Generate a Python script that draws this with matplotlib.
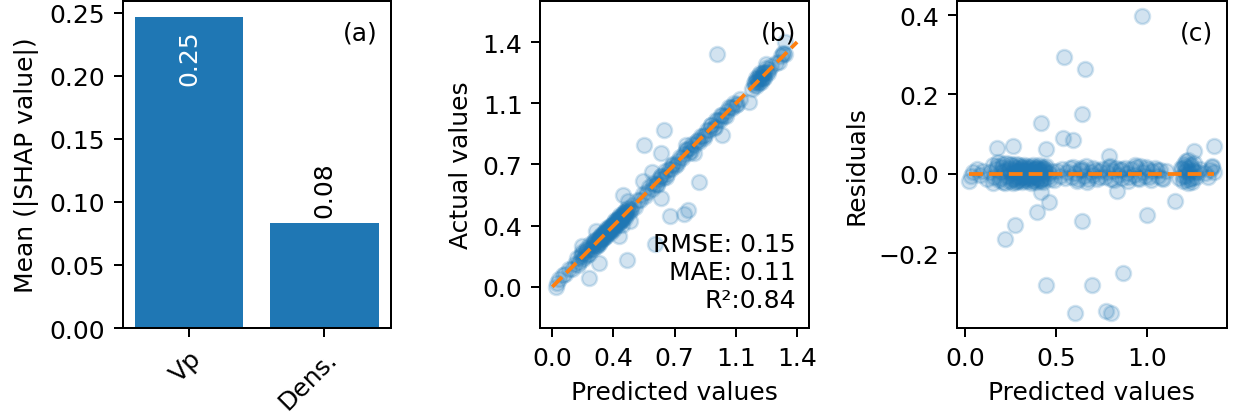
import numpy as np
import matplotlib
matplotlib.use('Agg')
import matplotlib.pyplot as plt

# ---------------- data ----------------
features = ['Vp', 'Dens.']
mean_shap = [0.247, 0.083]

# well-fitted points (predicted value, residual = actual - predicted)
band_pred = [
    0.022, 0.030, 0.045, 0.064, 0.080, 0.100, 0.120, 0.135,
    0.150, 0.160, 0.170, 0.180, 0.185, 0.195, 0.200, 0.210, 0.215, 0.225, 0.230, 0.240, 0.245, 0.250, 0.255,
    0.262, 0.268, 0.272, 0.278, 0.283, 0.288, 0.292, 0.298, 0.303, 0.308, 0.312, 0.318, 0.323, 0.328, 0.333,
    0.338, 0.343, 0.348, 0.352, 0.357, 0.362, 0.367, 0.372, 0.377, 0.382, 0.386, 0.391, 0.396, 0.401, 0.406,
    0.411, 0.416, 0.421, 0.426, 0.431, 0.436, 0.441, 0.447, 0.453, 0.460, 0.468, 0.476,
    0.490, 0.505, 0.520, 0.535, 0.548, 0.560, 0.575, 0.590, 0.605, 0.618, 0.630, 0.640, 0.652, 0.665, 0.678,
    0.690, 0.702, 0.715, 0.728, 0.740,
    0.755, 0.768, 0.780, 0.792, 0.805, 0.815, 0.828, 0.840, 0.852, 0.865, 0.878, 0.890, 0.902, 0.915, 0.928,
    0.940, 0.952, 0.965, 0.978, 0.990, 1.002, 1.015, 1.030, 1.045, 1.060, 1.075, 1.090, 1.105,
    1.180, 1.190, 1.198, 1.205, 1.212, 1.220, 1.226, 1.232, 1.238, 1.244, 1.250, 1.256, 1.262, 1.270, 1.280, 1.292,
    1.320, 1.335, 1.350, 1.362, 1.370,
]
band_resid = [
    -0.019, -0.005, 0.005, 0.011, -0.003, 0.008, -0.012, 0.004,
    0.021, -0.008, 0.012, 0.030, -0.015, 0.005, 0.018, -0.020, 0.008, 0.028, -0.006, 0.015, -0.018, 0.002, 0.022,
    0.010, -0.012, 0.004, -0.020, 0.015, -0.005, 0.008, -0.015, 0.002, 0.012, -0.008, 0.018, -0.003, 0.006, -0.014,
    0.010, -0.006, 0.003, 0.014, -0.010, 0.005, -0.018, 0.009, -0.002, 0.012, -0.009, 0.004, 0.016, -0.013, 0.001,
    0.007, -0.016, 0.011, -0.004, 0.013, -0.011, 0.006, 0.020, -0.007, 0.003, -0.012, 0.008,
    -0.015, 0.008, -0.005, 0.012, -0.010, 0.004, 0.015, -0.008, 0.002, -0.018, 0.010, 0.014, -0.006, 0.020, -0.012,
    0.005, -0.003, 0.009, -0.014, 0.006,
    0.012, -0.008, 0.004, 0.018, -0.012, 0.006, 0.015, -0.004, 0.009, -0.010, 0.014, 0.002, -0.007, 0.011, -0.003,
    0.016, -0.011, 0.020, 0.005, -0.006, 0.013, -0.009, 0.008, 0.015, -0.005, 0.010, -0.012, 0.006,
    -0.010, 0.015, -0.005, 0.025, 0.008, -0.015, 0.035, 0.002, -0.012, 0.018, -0.020, 0.010, 0.028, -0.008, 0.005, 0.012,
    0.002, -0.008, 0.010, 0.020, 0.005,
]
# more well-fitted points in the crowded ranges
band2_pred = [
    0.155, 0.175, 0.190, 0.205, 0.220, 0.235, 0.248, 0.258,
    0.265, 0.270, 0.276, 0.281, 0.286, 0.290, 0.295, 0.300, 0.306, 0.310, 0.315, 0.320, 0.326, 0.331,
    0.336, 0.340, 0.345, 0.350, 0.355, 0.360, 0.365, 0.370, 0.375, 0.380, 0.384, 0.389, 0.394, 0.399,
    0.404, 0.409, 0.414, 0.419, 0.424, 0.429, 0.434, 0.439,
    0.595, 0.622, 0.645, 0.670, 0.705, 0.735, 0.795, 0.820, 0.858, 0.895, 0.935, 0.958, 0.995, 1.025,
    1.055, 1.085,
    1.195, 1.202, 1.209, 1.216, 1.223, 1.229, 1.235, 1.241, 1.248, 1.265,
]
band2_resid = [
    -0.024, 0.019, -0.010, 0.025, -0.022, 0.010, 0.024, -0.014,
    -0.022, 0.016, -0.009, 0.024, -0.017, 0.006, 0.021, -0.011, 0.017, -0.021, 0.009, -0.016, 0.022, -0.007,
    0.015, -0.019, 0.019, -0.010, 0.007, -0.022, 0.017, -0.005, 0.023, -0.015, 0.011, -0.020, 0.014, -0.008,
    0.021, -0.017, 0.009, -0.013, 0.018, -0.020, 0.004, 0.015,
    0.018, -0.014, 0.010, -0.020, 0.015, -0.009, 0.020, -0.016, 0.012, -0.018, 0.022, -0.012, 0.017, -0.015,
    0.009, -0.010,
    0.012, -0.018, 0.020, -0.006, 0.015, -0.022, 0.008, 0.022, -0.010, 0.004,
]
# poorly-fitted points
outlier_pred = [0.542, 0.660, 0.642, 0.419, 0.539, 0.592, 0.175, 0.261, 0.447, 0.415,
                0.460, 0.395, 0.643, 0.276, 0.217, 0.443, 0.697, 0.605, 0.974, 0.868,
                0.776, 0.804, 1.000, 1.158, 0.837, 0.790, 1.258, 1.373, 1.217, 1.359]
outlier_resid = [0.294, 0.265, 0.150, 0.127, 0.090, 0.085, 0.066, 0.070, 0.063, -0.045,
                 -0.072, -0.095, -0.119, -0.130, -0.164, -0.279, -0.279, -0.351, 0.398, -0.250,
                 -0.346, -0.351, -0.105, -0.069, -0.044, 0.046, 0.057, 0.071, 0.032, 0.017]

metrics_text = 'RMSE: 0.15\nMAE: 0.11\nR²:0.84'

predicted = np.array(band_pred + band2_pred + outlier_pred)
residuals = np.array(band_resid + band2_resid + outlier_resid)
actual = predicted + residuals

# ---------------- figure ----------------
DPI = 180
fig = plt.figure(figsize=(1233 / DPI, 414 / DPI), dpi=DPI)
axA = fig.add_axes([0.0995, 0.2053, 0.2174, 0.7900])
axB = fig.add_axes([0.4380, 0.2053, 0.2184, 0.7900])
axC = fig.add_axes([0.7762, 0.2053, 0.2187, 0.7900])

# (a) mean |SHAP|
axA.bar(features, mean_shap, color='C0', width=0.8)
vmax = max(mean_shap)
for i, v in enumerate(mean_shap):
    if v > 0.5 * vmax:
        axA.text(i, v - 0.01, f'{v:.2f}', ha='center', va='top', rotation=90, color='white')
    else:
        axA.text(i, v + 0.005, f'{v:.2f}', ha='center', va='bottom', rotation=90, color='black')
axA.set_ylabel('Mean (|SHAP value|)')
plt.setp(axA.get_xticklabels(), rotation=45, ha='right', rotation_mode='anchor')
axA.text(0.95, 0.94, '(a)', transform=axA.transAxes, ha='right', va='top')

# (b) predicted vs actual
axB.scatter(predicted, actual, alpha=0.2, color='C0')
lo, hi = actual.min(), actual.max()
axB.plot([lo, hi], [lo, hi], '--', color='C1', lw=1.5)
ticks = np.linspace(lo, hi, 5)
axB.set_xticks(ticks)
axB.set_xticklabels([f'{t:.1f}' for t in ticks])
axB.set_yticks(ticks)
axB.set_yticklabels([f'{t:.1f}' for t in ticks])
axB.set_aspect('equal', adjustable='datalim')
axB.set_xlabel('Predicted values')
axB.set_ylabel('Actual values')
axB.text(0.95, 0.94, '(b)', transform=axB.transAxes, ha='right', va='top')
axB.text(0.95, 0.05, metrics_text, transform=axB.transAxes, ha='right', va='bottom')

# (c) residuals
axC.scatter(predicted, residuals, alpha=0.2, color='C0')
axC.plot([predicted.min(), predicted.max()], [0, 0], '--', color='C1', lw=1.5)
axC.set_xlabel('Predicted values')
axC.set_ylabel('Residuals')
axC.text(0.95, 0.94, '(c)', transform=axC.transAxes, ha='right', va='top')

fig.savefig('out.png', dpi=DPI)
